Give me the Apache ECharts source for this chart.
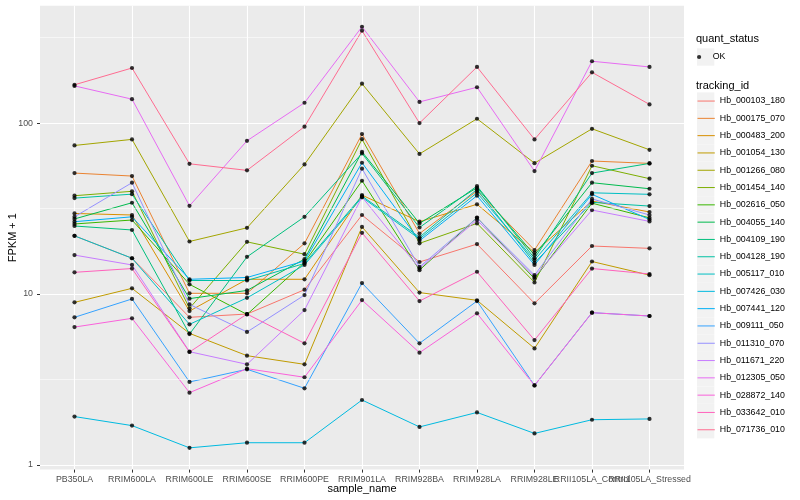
<!DOCTYPE html>
<html><head><meta charset="utf-8">
<script src="https://cdn.jsdelivr.net/npm/echarts@6/dist/echarts.min.js"></script>
<style>html,body{margin:0;padding:0;background:#fff}#c{width:800px;height:500px}</style>
</head><body><div id="c"></div>
<script>
const categories = ['PB350LA','RRIM600LA','RRIM600LE','RRIM600SE','RRIM600PE','RRIM901LA','RRIM928BA','RRIM928LA','RRIM928LE','RRII105LA_Control','RRII105LA_Stressed'];
const trackingIds = ['Hb_000103_180','Hb_000175_070','Hb_000483_200','Hb_001054_130','Hb_001266_080','Hb_001454_140','Hb_002616_050','Hb_004055_140','Hb_004109_190','Hb_004128_190','Hb_005117_010','Hb_007426_030','Hb_007441_120','Hb_009111_050','Hb_011310_070','Hb_011671_220','Hb_012305_050','Hb_028872_140','Hb_033642_010','Hb_071736_010'];
const colors = ['#F8766D','#EA8331','#D89000','#C09B00','#A3A500','#7CAE00','#39B600','#00BB4E','#00BF7D','#00C1A3','#00BFC4','#00BAE0','#00B0F6','#35A2FF','#9590FF','#C77CFF','#E76BF3','#FA62DB','#FF62BC','#FF6C91'];

// FPKM + 1 per sample, in the order of categories
const Hb_000103_180 = [21.9, 16.2, 7.31, 7.64, 10.6, 29, 15.4, 19.6, 8.82, 19.1, 18.5];
const Hb_000175_070 = [51, 49, 10.1, 10.1, 19.8, 86.2, 22.6, 40.0, 18.1, 60, 58.1];
const Hb_000483_200 = [29.6, 29, 7.95, 12.2, 12.2, 37.9, 26.5, 33.5, 17.5, 35, 30.2];
const Hb_001054_130 = [8.94, 10.8, 5.89, 4.36, 3.88, 24.7, 10.2, 9.19, 4.81, 15.5, 12.9];
const Hb_001266_080 = [74, 80.3, 20.3, 24.4, 57.3, 170, 66, 106, 58.3, 92.6, 69.8];
const Hb_001454_140 = [37.6, 39.9, 8.25, 20.2, 17.1, 80.5, 19.8, 25.9, 11.7, 56.3, 47.3];
const Hb_002616_050 = [25.7, 27.1, 11.4, 7.6, 15.3, 46, 13.8, 28, 12.3, 34, 27.9];
const Hb_004055_140 = [27.5, 34.2, 9.4, 10.5, 16.0, 67.9, 25.9, 41.9, 16.9, 44.8, 41.3];
const Hb_004109_190 = [25.0, 23.7, 5.83, 16.5, 28.3, 66.5, 24.5, 42.8, 16.2, 51, 58.1];
const Hb_004128_190 = [36.4, 38.4, 12.0, 12.0, 15.1, 37.4, 21.5, 41, 15.2, 34.4, 32.7];
const Hb_005117_010 = [21.9, 16.2, 6.65, 9.5, 14.8, 36.8, 21.0, 39.1, 15.8, 39.1, 38.3];
const Hb_007426_030 = [1.92, 1.70, 1.26, 1.35, 1.35, 2.40, 1.67, 2.03, 1.53, 1.84, 1.86];
const Hb_007441_120 = [26.5, 28.3, 12.2, 12.5, 15.6, 58.6, 20.5, 37.6, 14.8, 38.3, 27.3];
const Hb_009111_050 = [7.31, 9.36, 3.06, 3.63, 2.81, 11.6, 5.15, 9.1, 2.92, 7.78, 7.44];
const Hb_011310_070 = [28.3, 44.8, 8.7, 6.0, 9.86, 54.1, 14.4, 27.9, 12.9, 36, 29];
const Hb_011671_220 = [16.9, 14.8, 4.6, 3.88, 8.06, 37, 14.1, 27.1, 12.6, 31, 26.6];
const Hb_012305_050 = [165, 138, 32.8, 78.8, 131.5, 366, 133, 162, 52.4, 230, 213];
const Hb_028872_140 = [6.41, 7.21, 2.65, 3.66, 3.26, 9.22, 4.54, 7.71, 2.92, 7.78, 7.44];
const Hb_033642_010 = [13.4, 14.1, 4.58, 7.64, 5.15, 22.8, 9.1, 13.5, 5.38, 14.1, 13.1];
const Hb_071736_010 = [167.5, 210, 57.8, 52.9, 95.3, 347, 100, 213, 80.3, 198, 128.6];

const seriesValues = [Hb_000103_180, Hb_000175_070, Hb_000483_200, Hb_001054_130, Hb_001266_080, Hb_001454_140, Hb_002616_050, Hb_004055_140, Hb_004109_190, Hb_004128_190, Hb_005117_010, Hb_007426_030, Hb_007441_120, Hb_009111_050, Hb_011310_070, Hb_011671_220, Hb_012305_050, Hb_028872_140, Hb_033642_010, Hb_071736_010];

const yTicks = [1, 10, 100];
const minorBreaks = [3.162, 31.62, 316.2];
const quantStatus = 'OK';

const FONT = 'Liberation Sans, Arial, sans-serif';
const catIdx = categories.map((c, i) => i);
const evenIdx = catIdx.filter(i => i % 2 === 0);
const oddIdx = catIdx.filter(i => i % 2 === 1);

const chart = echarts.init(document.getElementById('c'), null, {renderer: 'canvas'});

const series = [];
series.push({
  type: 'line', name: '_minor', data: [], z: 1, silent: true,
  markLine: {
    silent: true, symbol: ['none', 'none'], label: {show: false},
    lineStyle: {color: '#FFFFFF', width: 0.55, type: 'solid'},
    emphasis: {disabled: true},
    data: minorBreaks.map(v => ({yAxis: v}))
  }
});
trackingIds.forEach((id, k) => {
  series.push({
    type: 'line', name: id, color: colors[k],
    data: seriesValues[k].map((v, i) => [i, v]),
    symbol: 'none', lineStyle: {width: 1, color: colors[k]},
    z: 2, silent: true, emphasis: {disabled: true}
  });
});
const allPoints = [];
seriesValues.forEach(vals => vals.forEach((v, i) => allPoints.push([i, v])));
series.push({
  type: 'scatter', name: quantStatus, data: allPoints,
  symbol: 'circle', symbolSize: 4.2, itemStyle: {color: '#000000'},
  z: 3, silent: true, emphasis: {disabled: true}
});

const keySize = 17.3;
const legendLeft = 697;
const trackTop = 92.4;
const graphics = [
  {type: 'text', left: 696, top: 33.5, style: {text: 'quant_status', font: '11px ' + FONT, fill: '#000'}},
  {type: 'rect', shape: {x: legendLeft, y: 48.35, width: keySize, height: keySize}, style: {fill: '#F2F2F2'}, z: -1},
  {type: 'text', left: 696, top: 80.5, style: {text: 'tracking_id', font: '11px ' + FONT, fill: '#000'}}
];
trackingIds.forEach((id, k) => {
  graphics.push({type: 'rect', shape: {x: legendLeft, y: trackTop + k * keySize, width: keySize, height: keySize}, style: {fill: '#F2F2F2'}, z: -1});
});

const xLabelCommon = {show: true, color: '#4D4D4D', fontSize: 8.8, margin: 5, fontFamily: FONT,
  showMinLabel: true, showMaxLabel: true, hideOverlap: false,
  formatter: v => categories[Math.round(v)] || ''};

chart.setOption({
  animation: false,
  backgroundColor: '#FFFFFF',
  textStyle: {fontFamily: FONT},
  grid: {left: 40, top: 5.7, width: 644, height: 463.9, show: true, backgroundColor: '#EBEBEB', borderWidth: 0,
    containLabel: false, outerBoundsMode: 'none'},
  xAxis: [{
    type: 'value', min: -0.6, max: 10.6, position: 'bottom',
    name: 'sample_name', nameLocation: 'middle', nameGap: 14, nameMoveOverlap: false,
    nameTextStyle: {fontSize: 11, color: '#000', fontFamily: FONT},
    axisLine: {show: false, onZero: false},
    axisTick: {show: true, length: 3, lineStyle: {color: '#333333', width: 1}, customValues: catIdx},
    axisLabel: Object.assign({customValues: evenIdx}, xLabelCommon),
    splitLine: {show: true, lineStyle: {color: '#FFFFFF', width: 1.1}}
  }, {
    type: 'value', min: -0.6, max: 10.6, position: 'bottom', offset: 0,
    axisLine: {show: false, onZero: false},
    axisTick: {show: false, customValues: oddIdx},
    axisLabel: Object.assign({customValues: oddIdx}, xLabelCommon),
    splitLine: {show: false}
  }],
  yAxis: {
    type: 'log', logBase: 10, min: 0.94, max: 486, position: 'left',
    name: 'FPKM + 1', nameLocation: 'middle', nameGap: 22, nameMoveOverlap: false,
    nameTextStyle: {fontSize: 11, color: '#000', fontFamily: FONT},
    axisLine: {show: false, onZero: false},
    axisTick: {show: true, length: 3, lineStyle: {color: '#333333', width: 1}, customValues: yTicks},
    axisLabel: {show: true, customValues: yTicks, color: '#4D4D4D', fontSize: 8.8, margin: 7, fontFamily: FONT,
      showMinLabel: true, showMaxLabel: true,
      formatter: v => String(v)},
    splitLine: {show: true, lineStyle: {color: '#FFFFFF', width: 1.1}},
    minorSplitLine: {show: false}
  },
  legend: [
    {
      data: [{name: quantStatus, icon: 'circle'}], orient: 'vertical', left: legendLeft, top: 48.35, padding: 0,
      itemWidth: keySize, itemHeight: 4.2, itemGap: 0, selectedMode: false,
      textStyle: {fontSize: 8.8, color: '#000', fontFamily: FONT, lineHeight: keySize},
      itemStyle: {color: '#000000'}
    },
    {
      data: trackingIds, orient: 'vertical', left: legendLeft, top: trackTop, padding: 0,
      itemWidth: keySize, itemHeight: keySize, itemGap: 0, selectedMode: false,
      textStyle: {fontSize: 8.8, color: '#000', fontFamily: FONT, lineHeight: keySize},
      itemStyle: {opacity: 0}, lineStyle: {width: 1}
    }
  ],
  graphic: graphics,
  series: series
});
</script>
</body></html>
